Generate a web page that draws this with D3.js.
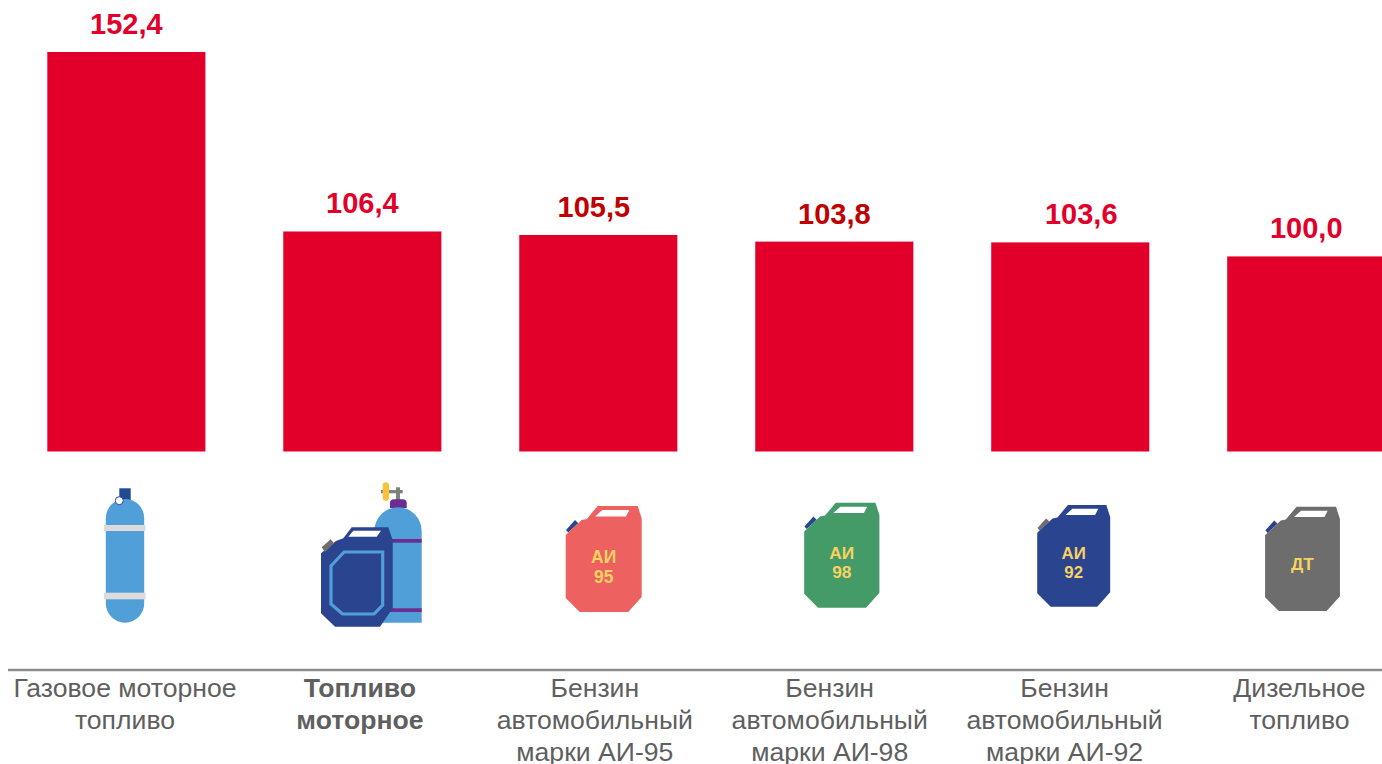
<!DOCTYPE html>
<html>
<head>
<meta charset="utf-8">
<script src="https://cdn.jsdelivr.net/npm/d3@7"></script>
<style>
    html, body { margin: 0; padding: 0; background: #fff; overflow: hidden; }
    svg { display: block; }
    text { font-family: "Liberation Sans", Arial, sans-serif; }
</style>
</head>
<body>
<div id="chart"></div>
<script>
var categories = ['gas', 'motor', 'ai95', 'ai98', 'ai92', 'dt'];
var values = [152.4, 106.4, 105.5, 103.8, 103.6, 100.0];
var valueColors = ['#e2002a', '#e2002a', '#c00000', '#c00000', '#e2002a', '#e2002a'];
var labelLines = [
    ['Газовое моторное', 'топливо'],
    ['Топливо', 'моторное'],
    ['Бензин', 'автомобильный', 'марки АИ-95'],
    ['Бензин', 'автомобильный', 'марки АИ-98'],
    ['Бензин', 'автомобильный', 'марки АИ-92'],
    ['Дизельное', 'топливо']
];
var labelBold = [false, true, false, false, false, false];
// value labels sit a little off the bar centres in the original
var valueNudge = [0, 0, -4.5, 0, 11, 0];
var canCaption = [null, null, ['АИ', '95'], ['АИ', '98'], ['АИ', '92'], ['ДТ']];

var width = 1382, height = 764;
var svg = d3.select('#chart')
    .append('svg')
    .attr('width', width)
    .attr('height', height);

var x = d3.scaleBand().domain(categories).range([47.3, 1385.3]).paddingInner(0.33).paddingOuter(0);
var y = d3.scaleLinear().domain([50, 152.4]).range([451.5, 52]);
var labelX = d3.scalePoint().domain(categories).range([125, 1299.5]);

svg.selectAll('rect.bar')
    .data(categories)
    .enter().append('rect')
    .attr('class', 'bar')
    .attr('x', function(d) { return x(d); })
    .attr('y', function(d, i) { return y(values[i]); })
    .attr('width', x.bandwidth())
    .attr('height', function(d, i) { return y(50) - y(values[i]); })
    .attr('fill', '#e2002a');

svg.selectAll('text.value')
    .data(categories)
    .enter().append('text')
    .attr('class', 'value')
    .attr('x', function(d, i) { return x(d) + x.bandwidth() / 2 + valueNudge[i]; })
    .attr('y', function(d, i) { return y(values[i]) - 18; })
    .attr('text-anchor', 'middle')
    .attr('font-size', 29)
    .attr('font-weight', 'bold')
    .attr('fill', function(d, i) { return valueColors[i]; })
    .text(function(d, i) { return values[i].toFixed(1).replace('.', ','); });

// axis line
svg.append('line')
    .attr('x1', 8).attr('x2', 1382)
    .attr('y1', 670).attr('y2', 670)
    .attr('stroke', '#8c8c8c')
    .attr('stroke-width', 2.5);

// category labels
categories.forEach(function(c, i) {
    var t = svg.append('text')
        .attr('text-anchor', 'middle')
        .attr('font-size', 26.6)
        .attr('font-weight', labelBold[i] ? 'bold' : 'normal')
        .attr('fill', '#5f5f5f');
    labelLines[i].forEach(function(line, j) {
        t.append('tspan')
            .attr('x', labelX(c))
            .attr('y', 697 + j * 32)
            .text(line);
    });
});

// icons
var canBody = 'M0,29 L16,14 L21,13 L32,0 L72,0 L76,12.5 L76,91 L62.5,106 L14,106 L0,92 Z';
var canWindow = 'M29.5,10.5 L36.5,4 L63.6,4 L60.3,10.5 Z';

function drawCan(cx, top, scale, body, cap, caption) {
    var g = svg.append('g')
        .attr('transform', 'translate(' + (cx - 38 * scale) + ',' + top + '),scale(' + scale + ')');
    g.append('path')
        .attr('d', 'M0.3,24 L9.3,14 L12.6,17.3 L2.6,26.6 Z')
        .attr('fill', cap);
    g.append('path').attr('d', canBody).attr('fill', body);
    g.append('path').attr('d', canWindow).attr('fill', '#fff');
    if (caption) {
        caption.forEach(function(line, j) {
            g.append('text')
                .attr('x', 38)
                .attr('y', caption.length === 1 ? 64 : 56.5 + j * 20)
                .attr('text-anchor', 'middle')
                .attr('font-size', 17.5)
                .attr('font-weight', 'bold')
                .attr('fill', '#f5d261')
                .text(line);
        });
    }
}

drawCan(603.7, 506, 1, '#ee6161', '#2b4490', canCaption[2]);
drawCan(841.8, 502.7, 0.99, '#459b68', '#2b4490', canCaption[3]);
drawCan(1073.7, 505, 0.96, '#2b4490', '#6d6d6d', canCaption[4]);
drawCan(1302.5, 506.7, 0.985, '#6d6d6d', '#2b4490', canCaption[5]);

// single cylinder
var cyl = svg.append('g').attr('transform', 'translate(125,0)');
cyl.append('rect').attr('x', -5.7).attr('y', 488.3).attr('width', 11.4).attr('height', 14).attr('fill', '#1f4a95');
cyl.append('path')
    .attr('d', 'M-19.2,518.2 A19.2,19.2 0 0 1 19.2,518.2 L19.2,603.5 A19.2,19.2 0 0 1 -19.2,603.5 Z')
    .attr('fill', '#519fd9');
cyl.append('circle').attr('cx', -5.7).attr('cy', 500.7).attr('r', 4).attr('fill', '#fff').attr('stroke', '#2b4490').attr('stroke-width', 1);
cyl.append('rect').attr('x', -21).attr('y', 525).attr('width', 41.5).attr('height', 6).attr('fill', '#dcdcdc');
cyl.append('rect').attr('x', -21).attr('y', 592.7).attr('width', 41.5).attr('height', 6.6).attr('fill', '#dcdcdc');

// cylinder + canister
var pair = svg.append('g');
pair.append('rect').attr('x', 381).attr('y', 490).attr('width', 21.7).attr('height', 3.3).attr('fill', '#808080');
pair.append('rect').attr('x', 396).attr('y', 487.3).attr('width', 4).attr('height', 12.7).attr('fill', '#808080');
pair.append('rect').attr('x', 382.7).attr('y', 482.3).attr('width', 6.3).attr('height', 18.4).attr('rx', 3).attr('fill', '#f9c23c');
pair.append('path').attr('d', 'M390,508 L390,503 Q390,499.3 394,499.3 L402.7,499.3 Q406.7,499.3 406.7,503 L406.7,508 Z').attr('fill', '#6b2d90');
pair.append('path').attr('d', 'M374.3,622.7 L374.3,531 A23.7,23.7 0 0 1 421.7,531 L421.7,622.7 Z').attr('fill', '#519fd9');
pair.append('rect').attr('x', 390).attr('y', 539).attr('width', 31.7).attr('height', 3.7).attr('fill', '#6b2d90');
pair.append('rect').attr('x', 390).attr('y', 608.3).attr('width', 31.7).attr('height', 3.7).attr('fill', '#6b2d90');
pair.append('path')
    .attr('d', 'M321,553.3 L336,541 L343.3,538.3 L351.7,527.3 L388.3,527.3 L392.7,540 L392.7,608.3 L380,626.7 L335,626.7 L321,613.3 Z')
    .attr('fill', '#2b4490');
pair.append('path').attr('d', 'M321.7,547.3 L330.7,539.3 L334,543.3 L325,552.3 Z').attr('fill', '#6d6d6d');
pair.append('path').attr('d', 'M353.3,530.7 L381,530.7 L376.7,536.7 L348.3,536.7 Z').attr('fill', '#fff');
pair.append('path')
    .attr('d', 'M331,566 L344,552 L382.7,552 L382.7,605 L374,614 L342.5,614 L331,604 Z')
    .attr('fill', 'none')
    .attr('stroke', '#519fd9')
    .attr('stroke-width', 3.2);
</script>
</body>
</html>
